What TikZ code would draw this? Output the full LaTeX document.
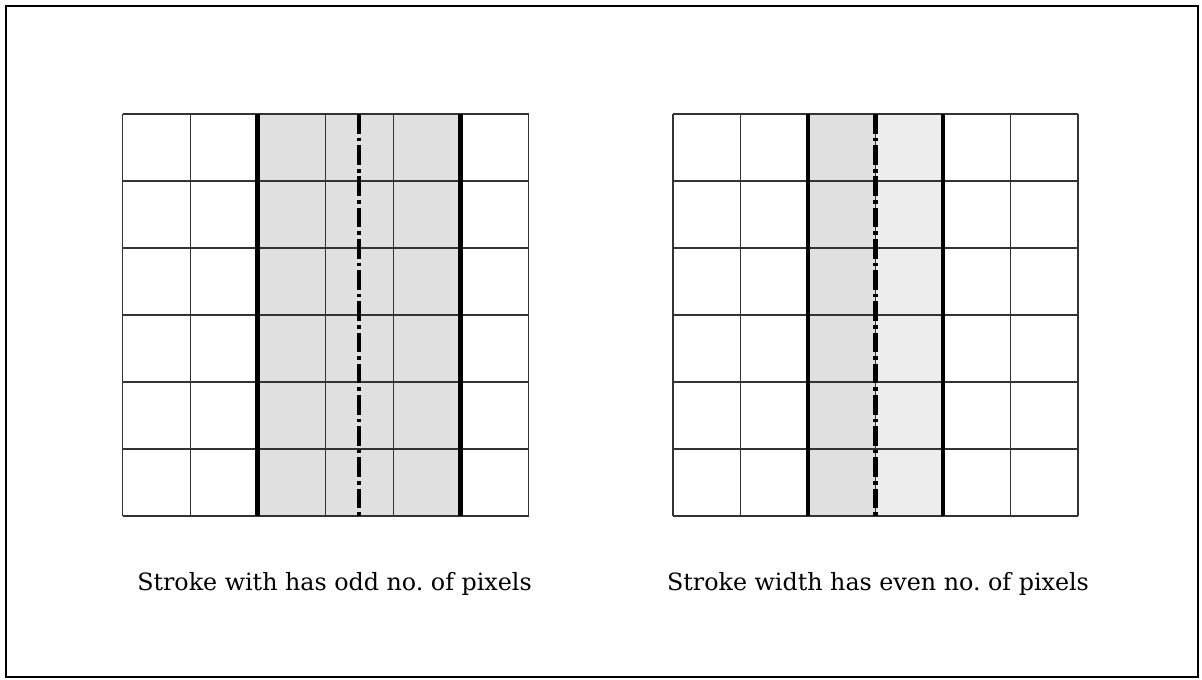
\documentclass[tikz,border=0pt]{standalone}
\usepackage{fontspec}
\setmainfont{Liberation Serif}
\newfontfamily\capfont{DejaVu Serif}
\usetikzlibrary{positioning}
\frenchspacing

\begin{document}
\begin{tikzpicture}[x=0.025cm, y=-0.025cm,
  frame/.style={draw, line width=1.6pt},
  cell/.style={draw, line width=0.9pt, black!80},
  edge/.style={draw, line width=3.3pt},
  axis/.style={draw, line width=3pt, dash pattern=on 14pt off 2.8pt on 2.6pt off 2.8pt},
  shade/.style={fill=gray!24},
  shadelight/.style={fill=gray!14},
  caption/.style={font=\capfont\fontsize{16.9}{20}\selectfont, inner sep=0pt, anchor=base}
]

\useasboundingbox (0,0) rectangle (1202,679);
\draw[frame] (6,6) rectangle (1198,677);

% odd stroke width
\begin{scope}[shift={(122.5,114)}]
  \fill[shade] (135.3,0) rectangle (338.3,402);
  \foreach \i in {0,...,6} {
    \draw[cell] ({67.67*\i},0) -- ({67.67*\i},402);
    \draw[cell] (0,{67*\i}) -- (406,{67*\i});
  }
  \draw[edge] (135.3,0) -- (135.3,402);
  \draw[edge] (338.3,0) -- (338.3,402);
  \draw[axis] (236.8,0) -- (236.8,402);
\end{scope}

% even stroke width
\begin{scope}[shift={(673,114)}]
  \fill[shade] (135,0) rectangle (202.5,402);
  \fill[shadelight] (202.5,0) rectangle (270,402);
  \foreach \i in {0,...,6} {
    \draw[cell] ({67.5*\i},0) -- ({67.5*\i},402);
    \draw[cell] (0,{67*\i}) -- (405,{67*\i});
  }
  \draw[edge] (135,0) -- (135,402);
  \draw[edge] (270,0) -- (270,402);
  \draw[axis] (202.5,0) -- (202.5,402);
\end{scope}

\node[caption] (odd) at (334.5,590) {Stroke with has odd no. of pixels};
\node[caption] (even) at (878,590) {Stroke width has even no. of pixels};

\end{tikzpicture}
\end{document}
